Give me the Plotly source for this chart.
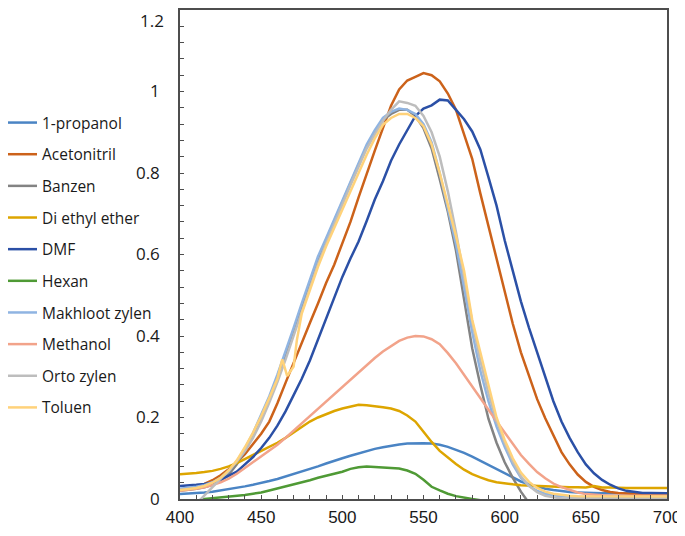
import plotly.graph_objects as go

wavelength = [400, 405, 410, 415, 420, 425, 430, 435, 440, 445, 450, 455, 460, 465, 470, 475,
              480, 485, 490, 495, 500, 505, 510, 515, 520, 525, 530, 535, 540, 545, 550, 555,
              560, 565, 570, 575, 580, 585, 590, 595, 600, 605, 610, 615, 620, 625, 630, 635,
              640, 645, 650, 655, 660, 665, 670, 675, 680, 685, 690, 695, 700]

propanol = [0.012, 0.013, 0.014, 0.016, 0.018, 0.021, 0.024, 0.027, 0.031, 0.035, 0.039, 0.044,
            0.049, 0.055, 0.061, 0.067, 0.074, 0.080, 0.087, 0.094, 0.100, 0.106, 0.112, 0.118,
            0.123, 0.127, 0.131, 0.134, 0.136, 0.137, 0.137, 0.136, 0.133, 0.128, 0.121, 0.113,
            0.104, 0.094, 0.083, 0.072, 0.062, 0.052, 0.043, 0.036, 0.030, 0.025, 0.022, 0.019,
            0.017, 0.016, 0.015, 0.015, 0.014, 0.014, 0.014, 0.014, 0.014, 0.014, 0.014, 0.014, 0.014]

acetonitril = [0.022, 0.025, 0.030, 0.037, 0.046, 0.058, 0.073, 0.090, 0.110, 0.135, 0.160, 0.190,
               0.235, 0.285, 0.335, 0.385, 0.432, 0.480, 0.530, 0.575, 0.625, 0.680, 0.740, 0.800,
               0.855, 0.910, 0.965, 1.005, 1.027, 1.036, 1.045, 1.040, 1.025, 0.995, 0.955, 0.895,
               0.835, 0.750, 0.670, 0.590, 0.510, 0.430, 0.360, 0.300, 0.245, 0.198, 0.155, 0.115,
               0.085, 0.060, 0.042, 0.030, 0.022, 0.017, 0.015, 0.013, 0.012, 0.012, 0.012, 0.012, 0.012]

banzen = [0.020, 0.022, 0.025, 0.029, 0.035, 0.045, 0.060, 0.085, 0.118, 0.155, 0.198, 0.245,
          0.295, 0.350, 0.410, 0.470, 0.530, 0.585, 0.635, 0.683, 0.728, 0.775, 0.820, 0.865,
          0.900, 0.930, 0.945, 0.955, 0.955, 0.940, 0.910, 0.860, 0.785, 0.705, 0.610, 0.490,
          0.370, 0.280, 0.197, 0.138, 0.090, 0.052, 0.018, -0.010, -0.020, -0.020, -0.020, -0.020,
          -0.020, -0.020, -0.020, -0.020, -0.020, -0.020, -0.020, -0.020, -0.020, -0.020, -0.020, -0.020, -0.020]

diethyl_ether = [0.061, 0.062, 0.064, 0.066, 0.069, 0.074, 0.080, 0.088, 0.098, 0.107, 0.116, 0.126,
                 0.138, 0.150, 0.163, 0.177, 0.190, 0.200, 0.209, 0.216, 0.222, 0.227, 0.231, 0.230,
                 0.228, 0.225, 0.222, 0.216, 0.205, 0.190, 0.165, 0.140, 0.118, 0.101, 0.086, 0.072,
                 0.061, 0.053, 0.046, 0.041, 0.038, 0.036, 0.034, 0.033, 0.032, 0.031, 0.030, 0.030,
                 0.029, 0.029, 0.028, 0.032, 0.028, 0.028, 0.027, 0.027, 0.027, 0.027, 0.027, 0.027, 0.027]

dmf = [0.032, 0.033, 0.035, 0.037, 0.040, 0.047, 0.056, 0.067, 0.085, 0.103, 0.125, 0.150,
       0.180, 0.215, 0.255, 0.295, 0.340, 0.390, 0.440, 0.495, 0.545, 0.590, 0.632, 0.682,
       0.735, 0.780, 0.830, 0.870, 0.905, 0.940, 0.958, 0.966, 0.980, 0.978, 0.955, 0.932,
       0.902, 0.858, 0.790, 0.720, 0.635, 0.560, 0.485, 0.420, 0.360, 0.295, 0.240, 0.190,
       0.150, 0.115, 0.085, 0.063, 0.047, 0.035, 0.026, 0.020, 0.017, 0.015, 0.015, 0.014, 0.014]

hexan = [-0.020, -0.012, -0.005, 0.000, 0.002, 0.004, 0.005, 0.007, 0.010, 0.013, 0.016, 0.021,
         0.026, 0.031, 0.035, 0.040, 0.046, 0.052, 0.057, 0.062, 0.067, 0.074, 0.078, 0.080,
         0.079, 0.078, 0.077, 0.075, 0.070, 0.062, 0.047, 0.030, 0.021, 0.013, 0.007, 0.003,
         0.000, -0.003, -0.005, -0.006, -0.006, -0.006, -0.006, -0.006, -0.006, -0.006, -0.006, -0.006,
         -0.006, -0.006, -0.006, -0.006, -0.006, -0.006, -0.006, -0.006, -0.006, -0.006, -0.006, -0.006, -0.006]

makhloot = [0.025, 0.027, 0.030, 0.034, 0.041, 0.052, 0.068, 0.093, 0.125, 0.162, 0.205, 0.252,
            0.305, 0.360, 0.420, 0.480, 0.540, 0.595, 0.640, 0.688, 0.732, 0.778, 0.825, 0.870,
            0.905, 0.935, 0.950, 0.958, 0.955, 0.945, 0.920, 0.875, 0.800, 0.715, 0.625, 0.520,
            0.410, 0.315, 0.240, 0.178, 0.128, 0.085, 0.052, 0.032, 0.020, 0.013, 0.009, 0.007,
            0.006, 0.005, 0.005, 0.005, 0.005, 0.005, 0.005, 0.005, 0.005, 0.005, 0.005, 0.005, 0.005]

methanol = [0.020, 0.022, 0.025, 0.029, 0.034, 0.041, 0.050, 0.062, 0.076, 0.090, 0.103, 0.117,
            0.133, 0.150, 0.168, 0.186, 0.204, 0.222, 0.240, 0.257, 0.275, 0.293, 0.311, 0.328,
            0.346, 0.362, 0.376, 0.388, 0.396, 0.400, 0.399, 0.392, 0.380, 0.358, 0.333, 0.304,
            0.276, 0.248, 0.220, 0.191, 0.163, 0.135, 0.108, 0.086, 0.066, 0.051, 0.038, 0.029,
            0.022, 0.016, 0.012, 0.010, 0.009, 0.008, 0.008, 0.008, 0.008, 0.008, 0.008, 0.008, 0.008]

orto_zylen = [-0.045, -0.030, -0.012, 0.008, 0.030, 0.050, 0.070, 0.092, 0.118, 0.150, 0.190, 0.237,
              0.287, 0.342, 0.402, 0.462, 0.522, 0.577, 0.627, 0.677, 0.722, 0.770, 0.815, 0.860,
              0.895, 0.928, 0.955, 0.976, 0.972, 0.965, 0.940, 0.900, 0.840, 0.755, 0.655, 0.545,
              0.435, 0.340, 0.260, 0.193, 0.138, 0.092, 0.056, 0.032, 0.017, 0.008, 0.004, 0.002,
              0.001, 0.001, 0.001, 0.001, 0.001, 0.001, 0.001, 0.001, 0.001, 0.001, 0.001, 0.001, 0.001]

toluen_wavelength = [400, 405, 410, 415, 420, 425, 430, 435, 440, 445, 450, 455, 460, 463, 466, 470,
                     472, 475, 480, 485, 490, 495, 500, 505, 510, 515, 520, 525, 530, 535, 540, 545,
                     550, 555, 560, 565, 570, 575, 580, 585, 590, 595, 600, 605, 610, 615, 620, 625,
                     630, 635, 640, 645, 650, 660, 670, 680, 690, 700]

toluen = [0.022, 0.024, 0.027, 0.032, 0.040, 0.052, 0.070, 0.095, 0.127, 0.163, 0.203, 0.248,
          0.295, 0.343, 0.302, 0.325, 0.390, 0.455, 0.515, 0.570, 0.620, 0.665, 0.710, 0.755,
          0.800, 0.845, 0.885, 0.918, 0.935, 0.945, 0.945, 0.935, 0.915, 0.870, 0.800, 0.725,
          0.645, 0.560, 0.440, 0.360, 0.280, 0.200, 0.145, 0.100, 0.065, 0.042, 0.027, 0.018,
          0.013, 0.010, 0.008, 0.007, 0.007, 0.006, 0.006, 0.006, 0.006, 0.006]

y_tick_values = [0, 0.2, 0.4, 0.6, 0.8, 1.0, 1.2]
y_tick_labels = ["0", "0.2", "0.4", "0.6", "0.8", "1", "1.2"]

series = [
    ("1-propanol", wavelength, propanol, "#4A84C4"),
    ("Acetonitril", wavelength, acetonitril, "#CC621A"),
    ("Banzen", wavelength, banzen, "#838383"),
    ("Di ethyl ether", wavelength, diethyl_ether, "#DDA500"),
    ("DMF", wavelength, dmf, "#2B50A6"),
    ("Hexan", wavelength, hexan, "#4F9A35"),
    ("Makhloot zylen", wavelength, makhloot, "#8FB4E2"),
    ("Methanol", wavelength, methanol, "#F2A38A"),
    ("Orto zylen", wavelength, orto_zylen, "#BDBDBD"),
    ("Toluen", toluen_wavelength, toluen, "#FFD27A"),
]

fig = go.Figure()
for name, xs, ys, color in series:
    fig.add_trace(go.Scatter(x=xs, y=ys, name=name, mode="lines", legendgroup=name,
                             line=dict(color=color, width=2.5)))

axis_color = "#4D4D4D"
tick_font = dict(family="Open Sans, Arial, sans-serif", size=17, color="#1a1a1a")

# the top label would be clipped by the page edge, so it is drawn just inside it
shown_labels = y_tick_labels[:-1] + [""]
fig.add_annotation(text=y_tick_labels[-1], xref="paper", yref="paper", x=0, y=1,
                   xanchor="right", yanchor="top", xshift=-14, yshift=3,
                   showarrow=False, font=tick_font)

fig.update_layout(
    width=677, height=528,
    margin=dict(l=172, r=18, t=2, b=37, autoexpand=False),
    paper_bgcolor="white", plot_bgcolor="white",
    font=dict(family="Open Sans, Arial, sans-serif", color="#1a1a1a"),
    showlegend=True,
    legend=dict(x=-0.3655, xanchor="left", y=0.8037, yanchor="top",
                font=dict(size=15.5, color="#1a1a1a"), tracegroupgap=8.5,
                bgcolor="rgba(0,0,0,0)"),
    xaxis=dict(range=[400, 700], dtick=50, tick0=400, showgrid=False, zeroline=False,
               showline=True, linecolor=axis_color, linewidth=1.5, mirror=True,
               ticks="inside", ticklen=4, tickcolor=axis_color, automargin=False,
               minor=dict(dtick=10, ticks="inside", ticklen=4, tickcolor=axis_color),
               tickfont=dict(family="Liberation Sans, Arial, sans-serif", size=17),
               ticklabelstandoff=2, ticklabeloverflow="allow"),
    yaxis=dict(range=[0, 1.2], tickmode="array", tickvals=y_tick_values, ticktext=shown_labels,
               showgrid=False, zeroline=False,
               showline=True, linecolor=axis_color, linewidth=1.5, mirror=True,
               ticks="inside", ticklen=4, tickcolor=axis_color, automargin=False,
               minor=dict(tick0=0, dtick=0.04, ticks="inside", ticklen=4, tickcolor=axis_color),
               tickfont=tick_font, ticklabelstandoff=15, ticklabeloverflow="allow"),
)

fig.write_html("out.html")
